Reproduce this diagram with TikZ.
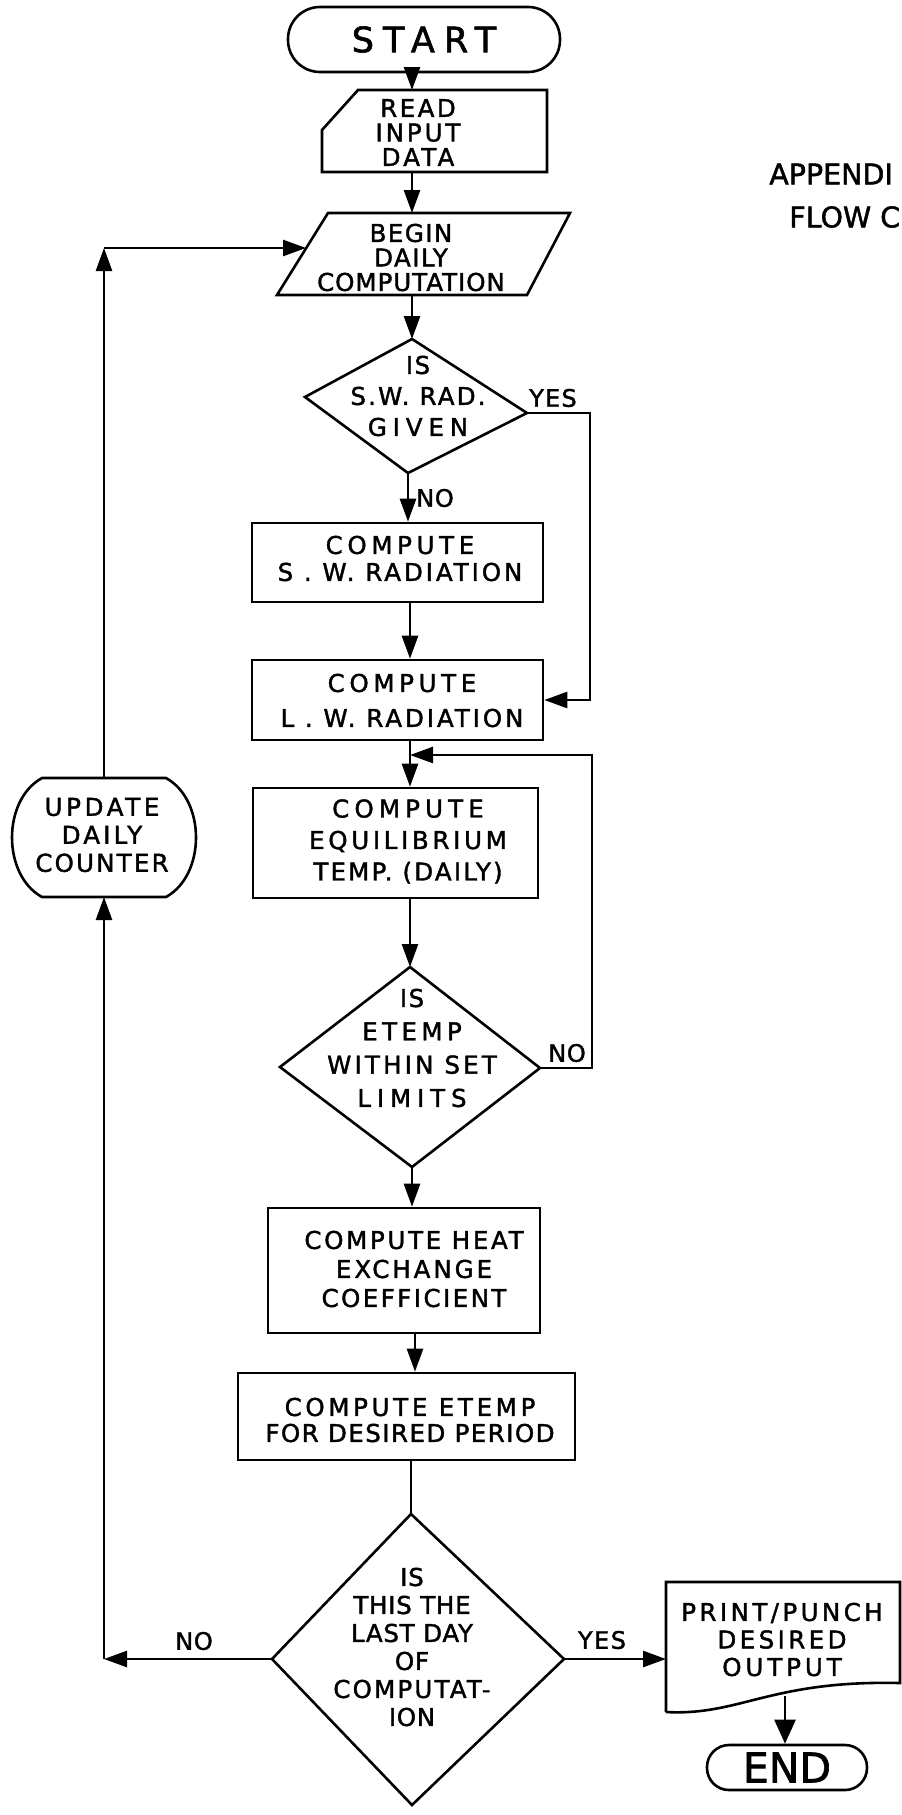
\documentclass[tikz,border=0pt]{standalone}
\usepackage{fontspec}
\newfontfamily\lett[FakeBold=1.6]{DejaVu Sans}
\usetikzlibrary{arrows.meta}
% letter-spaced text: \ls{amount}{text}
\newcommand\ls[2]{{\addfontfeature{LetterSpace=#1}#2}}
\tikzset{
  flow/.style={line width=2.6pt, line join=miter},
  arr/.style={-{Triangle[length=23pt,width=16pt]}},
  lab/.style={align=center, inner sep=0pt, font=\lett\fontsize{24.5pt}{#1}\selectfont},
  tag/.style={inner sep=0pt, font=\lett\fontsize{24pt}{26pt}\selectfont},
  procbox/.style={draw, inner sep=0pt},
}
\begin{document}
\begin{tikzpicture}[x=1pt, y=-1pt, flow]
\useasboundingbox (0,0) rectangle (902,1815);

% ---------- title ----------
\node[anchor=west, inner sep=0pt, font=\lett\fontsize{28.5pt}{34pt}\selectfont] (ttl1) at (768,174) {APPENDI};
\node[anchor=west, inner sep=0pt, font=\lett\fontsize{28.5pt}{34pt}\selectfont] (ttl2) at (788,217) {FLOW C};

% ---------- terminals ----------
\node[draw, rounded corners=32pt, minimum width=272pt, minimum height=65pt, inner sep=0pt,
      font=\lett\fontsize{35pt}{40pt}\selectfont] (start) at (424,39.5) {\ls{26}{START}};
\node[draw, rounded corners=22pt, minimum width=160pt, minimum height=45pt, inner sep=0pt,
      font=\lett\fontsize{41pt}{45pt}\selectfont] (fin) at (787,1767.5) {END};

% ---------- input card ----------
\draw (358,90) -- (547,90) -- (547,172) -- (322,172) -- (322,130) -- cycle;
\coordinate (rdT) at (412,90);
\coordinate (rdB) at (412,172);
\node[lab=24.5pt] (tread) at (418,132.5) {\ls{10}{READ}\\\ls{12}{INPUT}\\\ls{13}{DATA}};

% ---------- begin parallelogram ----------
\draw (328,213) -- (570,213) -- (527,295) -- (277,295) -- cycle;
\coordinate (bgT) at (412,213);
\coordinate (bgB) at (412,295);
\coordinate (bgL) at (306,248);
\node[lab=24.5pt] (tbegin) at (411,257.5) {\ls{6}{BEGIN}\\\ls{6}{DAILY}\\\ls{4}{COMPUTATION}};

% ---------- decision 1 ----------
\coordinate (d1t) at (412,339);
\coordinate (d1r) at (527,413);
\coordinate (d1b) at (408,473);
\coordinate (d1l) at (305,397);
\draw (d1t) -- (d1r) -- (d1b) -- (d1l) -- cycle;
\node[lab=31pt] (td1) at (418,396) {\ls{6}{IS}\\\ls{9}{S.W. RAD.}\\\ls{24}{GIVEN}};

% ---------- process boxes ----------
\node[procbox, minimum width=291pt, minimum height=79pt] (sw) at (397.5,562.5) {};
\node[lab=27pt] (tsw) at (400,558.5) {\ls{19}{COMPUTE}\\\ls{12}{S . W. RADIATION}};

\node[procbox, minimum width=291pt, minimum height=80pt] (lw) at (397.5,700) {};
\node[lab=35pt] (tlw) at (402,700.5) {\ls{19}{COMPUTE}\\\ls{12}{L . W. RADIATION}};

\node[procbox, minimum width=285pt, minimum height=110pt] (eq) at (395.5,843) {};
\node[lab=31.5pt] (teq) at (408,841.5) {\ls{21}{COMPUTE}\\\ls{15}{EQUILIBRIUM}\\\ls{9}{TEMP. (DAILY)}};

% ---------- decision 2 ----------
\coordinate (d2t) at (410,967);
\coordinate (d2r) at (540,1068);
\coordinate (d2b) at (412,1167);
\coordinate (d2l) at (280,1067);
\draw (d2t) -- (d2r) -- (d2b) -- (d2l) -- cycle;
\node[lab=33.3pt] (td2) at (412,1048) {\ls{6}{IS}\\\ls{18}{ETEMP}\\\ls{13}{WITHIN SET}\\\ls{24}{LIMITS}};

\node[procbox, minimum width=272pt, minimum height=125pt] (ht) at (404,1270.5) {};
\node[lab=29pt] (tht) at (414,1269) {\ls{11}{COMPUTE HEAT}\\\ls{12}{EXCHANGE}\\\ls{10}{COEFFICIENT}};

\node[procbox, minimum width=337pt, minimum height=87pt] (pd) at (406.5,1416.5) {};
\node[lab=26pt] (tpd) at (410,1420) {\ls{15}{COMPUTE ETEMP}\\\ls{6}{FOR DESIRED PERIOD}};

% ---------- decision 3 ----------
\coordinate (d3t) at (411,1514);
\coordinate (d3r) at (564,1659);
\coordinate (d3b) at (412,1805);
\coordinate (d3l) at (272,1659);
\draw (d3t) -- (d3r) -- (d3b) -- (d3l) -- cycle;
\node[lab=28pt] (td3) at (412,1647) {\ls{3}{IS}\\\ls{3}{THIS THE}\\\ls{3}{LAST DAY}\\\ls{3}{OF}\\\ls{9}{COMPUTAT-}\\\ls{3}{ION}};

% ---------- output document ----------
\draw (666,1712) -- (666,1582) -- (900,1582) -- (900,1683)
      .. controls (770,1680) and (740,1716) .. (666,1712);
\coordinate (prL) at (666,1659);
\coordinate (prB) at (785,1696);
\node[lab=27.5pt] (tpr) at (782,1639.5)
  {\ls{14}{PRINT/PUNCH}\\\ls{14}{DESIRED}\\\ls{16}{OUTPUT}};

% ---------- counter ----------
\draw (42,778) -- (166,778) .. controls (206,800) and (206,875) .. (166,897)
      -- (42,897) .. controls (2,875) and (2,800) .. (42,778) -- cycle;
\coordinate (upT) at (104,778);
\coordinate (upB) at (104,897);
\node[lab=28pt] (tup) at (102,835)
  {\ls{15}{UPDATE}\\\ls{13}{DAILY}\\\ls{9}{COUNTER}};

% ---------- routing points ----------
\coordinate (lpTop) at (104,248);
\coordinate (lpBot) at (104,1659);
\coordinate (railA) at (590,0);
\coordinate (railB) at (592,0);
\coordinate (jn) at (410,755);
\coordinate (colA) at (410,0);
\coordinate (colB) at (415,0);

% ---------- connectors ----------
\draw[arr] (start.south -| rdT) -- (rdT);
\draw[arr] (rdB) -- (bgT);
\draw[arr] (bgB) -- (d1t);
\draw[arr] (d1b) -- (d1b |- sw.north);
\draw[arr] (d1r) -- (d1r -| railA) -- (railA |- lw.east) -- (lw.east);
\draw[arr] (sw.south -| colA) -- (lw.north -| colA);
\draw[arr] (lw.south -| colA) -- (eq.north -| colA);
\draw[arr] (d2r) -- (d2r -| railB) -- (railB |- jn) -- (jn);
\draw[arr] (eq.south -| d2t) -- (d2t);
\draw[arr] (d2b) -- (d2b |- ht.north);
\draw[arr] (ht.south -| colB) -- (pd.north -| colB);
\draw (pd.south -| d3t) -- (d3t);
\draw[arr] (d3r) -- (prL);
\draw[-{Triangle[length=24pt,width=21pt]}] (prB) -- (prB |- fin.north);
\draw[arr] (d3l) -- (lpBot);
\draw[arr] (lpBot) -- (upB);
\draw[arr] (upT) -- (lpTop);
\draw[arr] (lpTop) -- (bgL);

% ---------- branch labels ----------
\node[tag] (yes1) at (553,398) {\ls{5}{YES}};
\node[tag] (no1) at (435,498) {\ls{3}{NO}};
\node[tag] (no2) at (567,1053) {\ls{3}{NO}};
\node[tag] (no3) at (194,1641) {\ls{3}{NO}};
\node[tag] (yes3) at (602,1640) {\ls{6}{YES}};
\end{tikzpicture}
\end{document}
